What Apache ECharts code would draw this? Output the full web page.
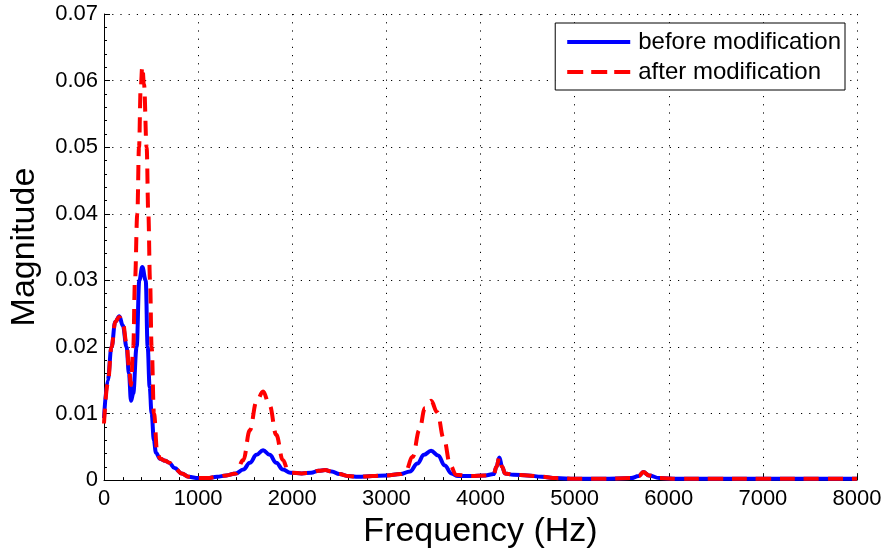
<!DOCTYPE html>
<html>
<head>
<meta charset="utf-8">
<script src="https://cdn.jsdelivr.net/npm/echarts@6/dist/echarts.min.js"></script>
<style>
  html, body { margin: 0; padding: 0; background: #fff; }
  #chart { width: 887px; height: 554px; }
</style>
</head>
<body>
<div id="chart"></div>
<script>
// Spectrum magnitude before modification (Hz, magnitude)
const beforeFreq = [0, 40, 80, 120, 163, 200, 240, 265, 287, 310, 347, 375, 407, 443, 464, 485, 506, 530, 552, 595, 650, 694, 750, 825, 900, 1000, 1100, 1200, 1300, 1400, 1480, 1550, 1620, 1690, 1760, 1830, 1900, 1980, 2100, 2200, 2280, 2350, 2420, 2500, 2600, 2700, 2850, 3000, 3150, 3250, 3330, 3400, 3475, 3550, 3620, 3690, 3760, 3900, 4050, 4140, 4170, 4200, 4230, 4260, 4350, 4500, 4650, 4800, 5000, 5300, 5600, 5680, 5730, 5790, 5900, 6100, 6500, 7000, 7500, 8000];
const beforeMag = [0.0093, 0.0150, 0.0200, 0.0238, 0.0246, 0.0232, 0.0200, 0.0160, 0.0119, 0.0130, 0.0200, 0.0300, 0.0320, 0.0300, 0.0200, 0.0140, 0.0100, 0.0060, 0.0041, 0.0032, 0.0029, 0.0026, 0.0018, 0.0010, 0.0005, 0.0003, 0.0003, 0.0005, 0.0007, 0.0010, 0.0016, 0.0026, 0.0038, 0.0045, 0.0038, 0.0026, 0.0016, 0.0011, 0.0010, 0.0011, 0.0014, 0.0015, 0.0013, 0.0009, 0.0006, 0.0005, 0.0006, 0.0007, 0.0009, 0.0013, 0.0025, 0.0038, 0.0044, 0.0037, 0.0022, 0.0010, 0.0006, 0.0006, 0.0007, 0.0009, 0.0020, 0.0034, 0.0020, 0.0010, 0.0008, 0.0007, 0.0005, 0.0003, 0.0002, 0.0002, 0.0003, 0.0006, 0.0012, 0.0007, 0.0003, 0.0002, 0.0002, 0.0002, 0.0002, 0.0002];

// Spectrum magnitude after modification (Hz, magnitude)
const afterFreq = [0, 40, 80, 120, 163, 200, 240, 265, 287, 311, 329, 354, 372, 390, 407, 425, 453, 471, 489, 506, 531, 566, 600, 650, 694, 750, 825, 900, 1000, 1100, 1200, 1300, 1400, 1480, 1550, 1620, 1690, 1760, 1830, 1900, 1960, 2000, 2100, 2200, 2280, 2350, 2420, 2500, 2600, 2700, 2850, 3000, 3150, 3200, 3280, 3350, 3410, 3475, 3540, 3610, 3680, 3740, 3900, 4050, 4140, 4170, 4200, 4230, 4260, 4350, 4500, 4650, 4800, 5000, 5300, 5600, 5680, 5730, 5790, 5900, 6100, 6500, 7000, 7500, 8000];
const afterMag = [0.0085, 0.0145, 0.0200, 0.0238, 0.0245, 0.0236, 0.0205, 0.0170, 0.0143, 0.0200, 0.0300, 0.0400, 0.0500, 0.0590, 0.0621, 0.0595, 0.0500, 0.0400, 0.0300, 0.0200, 0.0100, 0.0041, 0.0032, 0.0029, 0.0026, 0.0018, 0.0010, 0.0005, 0.0003, 0.0003, 0.0005, 0.0007, 0.0010, 0.0030, 0.0075, 0.0118, 0.0133, 0.0112, 0.0068, 0.0030, 0.0013, 0.0011, 0.0010, 0.0011, 0.0014, 0.0015, 0.0013, 0.0009, 0.0006, 0.0005, 0.0006, 0.0007, 0.0009, 0.0012, 0.0035, 0.0075, 0.0108, 0.0119, 0.0102, 0.0062, 0.0022, 0.0008, 0.0006, 0.0007, 0.0009, 0.0020, 0.0034, 0.0020, 0.0010, 0.0008, 0.0007, 0.0005, 0.0003, 0.0002, 0.0002, 0.0003, 0.0006, 0.0012, 0.0007, 0.0003, 0.0002, 0.0002, 0.0002, 0.0002, 0.0002];

const seriesNames = ['before modification', 'after modification'];

const pairs = (xs, ys) => xs.map((x, i) => [x, ys[i]]);

const FONT = 'Liberation Sans, Arial, Helvetica, sans-serif';
const dotted = { color: '#000', width: 1, type: [1.2, 7] };

// Legend keys: a solid bar and three dashes
const solidKey = 'path://M0,0h63v4h-63z';
const dashedKey = 'path://M0,0h16v4h-16z M24,0h16v4h-16z M47,0h16v4h-16z';

const chart = echarts.init(document.getElementById('chart'), null, { renderer: 'canvas' });
chart.setOption({
  animation: false,
  backgroundColor: '#fff',
  grid: { left: 104, right: 30, top: 14, bottom: 70, containLabel: false },
  legend: {
    orient: 'vertical',
    right: 42,
    top: 23,
    backgroundColor: '#fff',
    borderColor: '#000',
    borderWidth: 1,
    padding: [7, 4, 6, 12],
    itemGap: 6,
    itemWidth: 63,
    itemHeight: 4,
    textStyle: { fontFamily: FONT, fontSize: 24, color: '#000', padding: [0, 0, 0, 3] },
    data: [
      { name: seriesNames[0], icon: solidKey, itemStyle: { color: '#0000ff' } },
      { name: seriesNames[1], icon: dashedKey, itemStyle: { color: '#ff0000' } }
    ]
  },
  xAxis: {
    type: 'value',
    min: 0,
    max: 8000,
    interval: 1000,
    name: 'Frequency (Hz)',
    nameLocation: 'middle',
    nameGap: 14,
    nameTextStyle: { fontFamily: FONT, fontSize: 34, color: '#000' },
    axisLine: { show: true, onZero: false, lineStyle: { color: '#000', width: 1 } },
    axisTick: { show: true, inside: true, length: 6, lineStyle: { color: '#000' } },
    minorTick: { show: true, splitNumber: 5, length: 3, lineStyle: { color: '#000' } },
    axisLabel: { fontFamily: FONT, fontSize: 22, color: '#000', margin: 8, formatter: v => String(v) },
    splitLine: { show: true, lineStyle: dotted }
  },
  yAxis: {
    type: 'value',
    min: 0,
    max: 0.07,
    interval: 0.01,
    name: 'Magnitude',
    nameLocation: 'middle',
    nameGap: 62,
    nameTextStyle: { fontFamily: FONT, fontSize: 34, color: '#000' },
    axisLine: { show: true, lineStyle: { color: '#000', width: 1 } },
    axisTick: { show: true, inside: true, length: 6, lineStyle: { color: '#000' } },
    minorTick: { show: true, splitNumber: 5, length: 3, lineStyle: { color: '#000' } },
    axisLabel: { fontFamily: FONT, fontSize: 22, color: '#000', margin: 6 },
    splitLine: { show: true, lineStyle: dotted }
  },
  series: [
    {
      name: seriesNames[0],
      type: 'line',
      data: pairs(beforeFreq, beforeMag),
      showSymbol: false,
      symbol: 'none',
      smooth: 0.4,
      smoothMonotone: 'x',
      color: '#0000ff',
      lineStyle: { color: '#0000ff', width: 4 },
      z: 2
    },
    {
      name: seriesNames[1],
      type: 'line',
      data: pairs(afterFreq, afterMag),
      showSymbol: false,
      symbol: 'none',
      smooth: 0.4,
      smoothMonotone: 'x',
      color: '#ff0000',
      lineStyle: { color: '#ff0000', width: 4, type: [15, 9] },
      z: 3
    }
  ]
});
</script>
</body>
</html>
